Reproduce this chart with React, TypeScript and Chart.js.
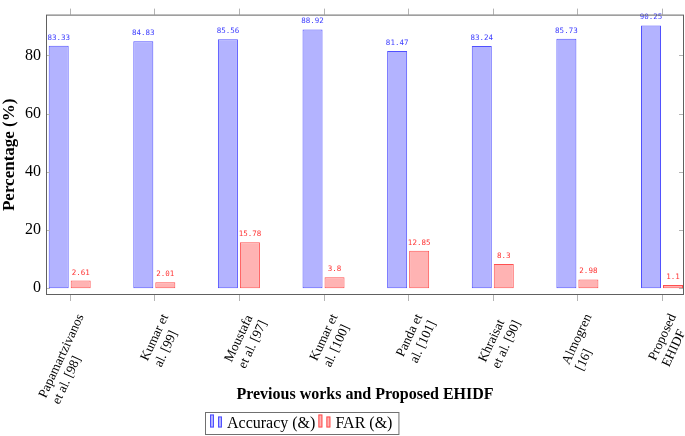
import React, { useEffect, useRef } from 'react';
import { Chart, registerables } from 'chart.js';

Chart.register(...registerables);

const categories: string[][] = [
  ['Papamartzivanos', 'et al. [98]'],
  ['Kumar et', 'al. [99]'],
  ['Moustafa', 'et al. [97]'],
  ['Kumar et', 'al. [100]'],
  ['Panda et', 'al. [101]'],
  ['Khraisat', 'et al. [90]'],
  ['Almogren', '[16]'],
  ['Proposed', 'EHIDF'],
];
const accuracy = [83.33, 84.83, 85.56, 88.92, 81.47, 83.24, 85.73, 90.25];
const far = [2.61, 2.01, 15.78, 3.8, 12.85, 8.3, 2.98, 1.1];
const yTicks = [0, 20, 40, 60, 80];
const seriesLabels = ['Accuracy (&)', 'FAR (&)'];
const xTitle = 'Previous works and Proposed EHIDF';
const yTitle = 'Percentage (%)';

const BLUE_FILL = 'rgb(179,179,255)';
const BLUE_LINE = 'rgb(80,80,255)';
const BLUE_TEXT = 'rgb(60,60,255)';
const RED_FILL = 'rgb(255,179,179)';
const RED_LINE = 'rgb(255,80,80)';
const RED_TEXT = 'rgb(255,50,50)';
const SERIF = '"Liberation Serif", "DejaVu Serif", serif';

const framePlugin = {
  id: 'frame',
  afterDraw(chart: any) {
    const { ctx, chartArea: a, scales } = chart;
    const xs = scales.x;
    const ys = scales.y;
    ctx.save();
    ctx.strokeStyle = '#b4b4b4';
    ctx.lineWidth = 1;
    ctx.beginPath();
    categories.forEach((_, i) => {
      const x = Math.round(xs.getPixelForValue(i)) + 0.5;
      ctx.moveTo(x, a.top - 6);
      ctx.lineTo(x, a.top);
      ctx.moveTo(x, a.bottom);
      ctx.lineTo(x, a.bottom + 6);
    });
    yTicks.forEach((v) => {
      const y = Math.round(ys.getPixelForValue(v)) + 0.5;
      ctx.moveTo(a.left, y);
      ctx.lineTo(a.left + 4, y);
      ctx.moveTo(a.right - 5, y);
      ctx.lineTo(a.right, y);
    });
    ctx.stroke();
    ctx.strokeStyle = '#606060';
    ctx.strokeRect(a.left + 0.5, a.top + 0.5, a.right - a.left - 1, a.bottom - a.top - 1);

    // x tick labels (rotated, multi-line)
    ctx.fillStyle = '#000';
    ctx.font = `13.3px ${SERIF}`;
    ctx.textAlign = 'left';
    ctx.textBaseline = 'middle';
    const ang = (-65 * Math.PI) / 180;
    const lh = 15;
    categories.forEach((lines, i) => {
      const x = xs.getPixelForValue(i);
      const maxW = Math.max(...lines.map((l) => ctx.measureText(l).width));
      ctx.save();
      ctx.translate(x + 18, a.bottom + 23);
      ctx.rotate(ang);
      lines.forEach((l, j) => {
        ctx.fillText(l, -maxW, (j - (lines.length - 1) / 2) * lh);
      });
      ctx.restore();
    });

    // legend
    const top = 412.5;
    const h = 22;
    let x = 205;
    ctx.font = `16px ${SERIF}`;
    chart.data.datasets.forEach((ds: any, k: number) => {
      const bx = x + (k === 0 ? 5 : 3);
      ctx.fillStyle = ds.backgroundColor;
      ctx.strokeStyle = ds.borderColor;
      ctx.fillRect(bx, top + 2, 4, 13);
      ctx.strokeRect(bx + 0.5, top + 2.5, 3, 12);
      ctx.fillRect(bx + 8, top + 4, 4, 11);
      ctx.strokeRect(bx + 8.5, top + 4.5, 3, 10);
      ctx.fillStyle = '#000';
      ctx.textBaseline = 'middle';
      ctx.fillText(ds.label, bx + 17, top + 11);
      x = bx + 17 + ctx.measureText(ds.label).width;
    });
    ctx.strokeStyle = '#707070';
    ctx.strokeRect(205.5, top, x + 6 - 205, h);
    ctx.restore();
  },
};

const valueLabelPlugin = {
  id: 'valueLabels',
  afterDatasetsDraw(chart: any) {
    const { ctx } = chart;
    ctx.save();
    ctx.font = `7.5px "DejaVu Sans Mono", monospace`;
    ctx.textAlign = 'center';
    ctx.textBaseline = 'middle';
    chart.data.datasets.forEach((ds: any, d: number) => {
      const meta = chart.getDatasetMeta(d);
      ctx.fillStyle = d === 0 ? BLUE_TEXT : RED_TEXT;
      meta.data.forEach((el: any, i: number) => {
        ctx.fillText(String(ds.data[i].y), el.x, el.y - 8);
      });
    });
    ctx.restore();
  },
};

export default function App() {
  const ref = useRef<HTMLCanvasElement | null>(null);

  useEffect(() => {
    if (!ref.current) return;
    const chart = new Chart(ref.current, {
      type: 'bar',
      data: {
        datasets: [
          {
            label: seriesLabels[0],
            data: accuracy.map((v, i) => ({ x: i, y: v })),
            backgroundColor: BLUE_FILL,
            borderColor: BLUE_LINE,
            borderWidth: 1,
            borderSkipped: false,
          },
          {
            label: seriesLabels[1],
            data: far.map((v, i) => ({ x: i, y: v })),
            backgroundColor: RED_FILL,
            borderColor: RED_LINE,
            borderWidth: 1,
            borderSkipped: false,
          },
        ],
      },
      options: {
        animation: false,
        responsive: false,
        categoryPercentage: 0.52,
        barPercentage: 0.91,
        layout: { padding: { top: 6, right: 1, left: 0, bottom: 0 } },
        plugins: { legend: { display: false }, tooltip: { enabled: false } },
        scales: {
          x: {
            type: 'linear',
            offset: false,
            min: -0.28,
            max: 7.26,
            grid: { display: false, drawTicks: false, offset: false },
            border: { display: false },
            ticks: { display: false },
            afterBuildTicks: (s: any) => {
              s.ticks = categories.map((_, i) => ({ value: i }));
            },
            afterFit: (s: any) => {
              s.height = 141;
            },
            title: {
              display: true,
              text: xTitle,
              color: '#000',
              font: { family: SERIF, size: 16, weight: 'bold', lineHeight: 1.2 },
              padding: { top: 0, bottom: 31.4 },
            },
          },
          y: {
            min: -2.33,
            max: 94,
            grid: { display: false, drawTicks: false },
            border: { display: false },
            afterBuildTicks: (s: any) => {
              s.ticks = yTicks.map((v) => ({ value: v }));
            },
            afterFit: (s: any) => {
              s.width = 46;
            },
            ticks: {
              color: '#000',
              padding: 5,
              font: { family: SERIF, size: 16 },
            },
            title: {
              display: true,
              text: yTitle,
              color: '#000',
              font: { family: SERIF, size: 17, weight: 'bold', lineHeight: 1.1 },
              padding: 0,
            },
          },
        },
      } as any,
      plugins: [valueLabelPlugin, framePlugin],
    });
    return () => chart.destroy();
  }, []);

  return (
    <div style={{ position: 'absolute', left: 0, top: 0, width: 685, height: 436, background: '#fff' }}>
      <canvas ref={ref} width={685} height={436} />
    </div>
  );
}
